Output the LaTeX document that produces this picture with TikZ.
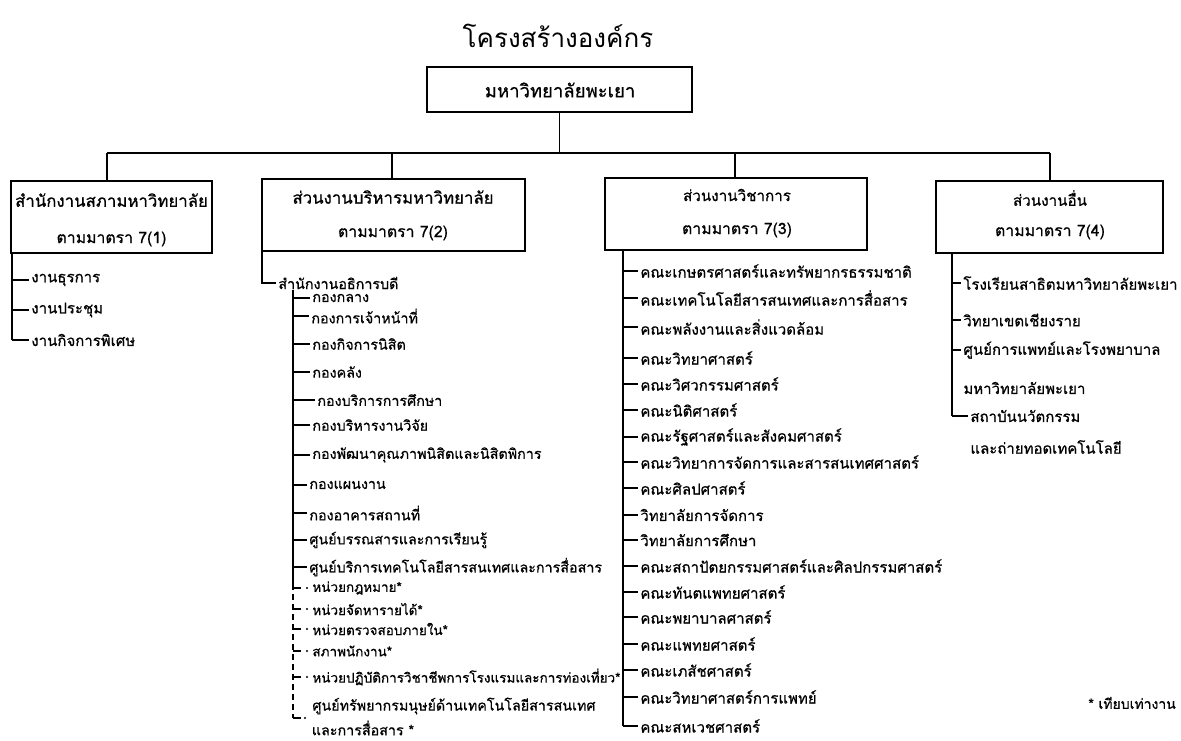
\documentclass[tikz,border=0pt]{standalone}
\usepackage{fontspec}
\setmainfont{Loma}[Script=Thai,FakeBold=0.7]
\newfontfamily\titlefont{Loma}[Script=Thai]
\begin{document}
\begin{tikzpicture}[x=1pt,y=-1pt,line width=1.8pt,
  orgbox/.style={draw,line width=2pt,inner sep=0pt},
  boxtxt/.style={inner sep=0pt},
  item/.style={anchor=west,font=\fontsize{15}{18}\selectfont,inner sep=1.5pt},
  item2/.style={item,font=\fontsize{14.3}{17}\selectfont},
  item3/.style={item,font=\fontsize{13.5}{16}\selectfont},
  link/.style={line width=1.9pt},
  dlink/.style={line width=1.5pt,dash pattern=on 6pt off 4pt}]
\useasboundingbox (0,0) rectangle (1181,740);
% title
\node[font=\titlefont\fontsize{26}{32}\selectfont,inner sep=0pt] (title) at (558,36) {โครงสร้างองค์กร};
% top box
\node[orgbox,minimum width=265pt,minimum height=45pt] (top) at (559.5,89.5) {};
\node[boxtxt,font=\fontsize{18.5}{22}\selectfont] (toptxt) at (560,90) {มหาวิทยาลัยพะเยา};
% level boxes
\node[orgbox,minimum width=201pt,minimum height=72pt] (b1) at (111.5,217) {};
\node[orgbox,minimum width=263pt,minimum height=72pt] (b2) at (393.5,215) {};
\node[orgbox,minimum width=262pt,minimum height=72pt] (b3) at (736,214) {};
\node[orgbox,minimum width=227pt,minimum height=72pt] (b4) at (1049.5,217) {};
\node[boxtxt,font=\fontsize{16.8}{20}\selectfont] (b1a) at (111.5,200) {สำนักงานสภามหาวิทยาลัย};
\node[boxtxt,font=\fontsize{15.8}{19}\selectfont] (b1b) at (111.5,239) {ตามมาตรา 7(1)};
\node[boxtxt,font=\fontsize{16.8}{20}\selectfont] (b2a) at (393,197) {ส่วนงานบริหารมหาวิทยาลัย};
\node[boxtxt,font=\fontsize{15.8}{19}\selectfont] (b2b) at (393,233) {ตามมาตรา 7(2)};
\node[boxtxt,font=\fontsize{15.2}{19}\selectfont] (b3a) at (737,195) {ส่วนงานวิชาการ};
\node[boxtxt,font=\fontsize{15.8}{19}\selectfont] (b3b) at (737,230) {ตามมาตรา 7(3)};
\node[boxtxt,font=\fontsize{15.2}{19}\selectfont] (b4a) at (1050,198) {ส่วนงานอื่น};
\node[boxtxt,font=\fontsize{15.8}{19}\selectfont] (b4b) at (1050,232) {ตามมาตรา 7(4)};
% bus
\coordinate (busL) at (107,153);
\coordinate (busR) at (1050,153);
\coordinate (bus2) at (392,153);
\coordinate (bus3) at (735,153);
\draw[link] (top.south) -- (top.south |- busL);
\draw[link] (busL) -- (busR);
\draw[link] (busL) -- (busL |- b1.north);
\draw[link] (bus2) -- (bus2 |- b2.north);
\draw[link] (bus3) -- (bus3 |- b3.north);
\draw[link] (busR) -- (busR |- b4.north);
% list 1
\coordinate (s1) at (12,253);
\foreach \y/\t [count=\i] in {280/งานธุรการ,310/งานประชุม,340/งานกิจการพิเศษ}{
  \node[item] (l1-\i) at (29,\y) {\t};
  \draw[link] (s1 |- l1-\i.west) -- (l1-\i.west);
}
\draw[link] (s1) -- (s1 |- l1-3.west);
% list 2
\coordinate (s2) at (262,251);
\node[item2] (ob) at (276,283) {สำนักงานอธิการบดี};
\draw[link] (s2) |- (ob.west);
\coordinate (s2b) at (293,290);
\coordinate (s2c) at (293,584);
\foreach \y/\x/\t [count=\i] in {298/310/กองกลาง,316/309/กองการเจ้าหน้าที่,344/310/กองกิจการนิสิต,372/310/กองคลัง,400/315/กองบริการการศึกษา,425/310/กองบริหารงานวิจัย,455/310/กองพัฒนาคุณภาพนิสิตและนิสิตพิการ,485/307/กองแผนงาน,513/307/กองอาคารสถานที่,540/307/ศูนย์บรรณสารและการเรียนรู้,567/307/ศูนย์บริการเทคโนโลยีสารสนเทศและการสื่อสาร}{
  \node[item2] (l2-\i) at (\x,\y) {\t};
  \draw[link] (s2b |- l2-\i.west) -- (l2-\i.west);
}
\draw[link] (s2b) -- (s2c);
\foreach \y/\t [count=\i] in {588/หน่วยกฎหมาย*,609/หน่วยจัดหารายได้*,629/หน่วยตรวจสอบภายใน*,651/สภาพนักงาน*,677/หน่วยปฏิบัติการวิชาชีพการโรงแรมและการท่องเที่ยว*}{
  \node[item3] (d2-\i) at (310,\y) {\t};
  \draw[line width=1.6pt] (s2c |- d2-\i.west) -- ++(8,0);
  \fill ([xshift=-3pt]d2-\i.west) circle (1.1pt);
}
\node[item2] (d2-6) at (310,706) {ศูนย์ทรัพยากรมนุษย์ด้านเทคโนโลยีสารสนเทศ};
\node[item2,inner sep=0pt] (d2-7) at (311,728) {และการสื่อสาร *};
\coordinate (s2d) at (293,718);
\draw[dlink] (s2c) -- (s2d);
\draw[line width=1.6pt] (s2d) -- ++(8,0) coordinate (s2e);
\fill ([xshift=4pt]s2e) circle (1.1pt);
% list 3
\coordinate (s3) at (623,250);
\foreach \y/\t [count=\i] in {271/คณะเกษตรศาสตร์และทรัพยากรธรรมชาติ,298/คณะเทคโนโลยีสารสนเทศและการสื่อสาร,327/คณะพลังงานและสิ่งแวดล้อม,358/คณะวิทยาศาสตร์,384/คณะวิศวกรรมศาสตร์,410/คณะนิติศาสตร์,437/คณะรัฐศาสตร์และสังคมศาสตร์,462/คณะวิทยาการจัดการและสารสนเทศศาสตร์,488/คณะศิลปศาสตร์,515/วิทยาลัยการจัดการ,540/วิทยาลัยการศึกษา,566/คณะสถาปัตยกรรมศาสตร์และศิลปกรรมศาสตร์,592/คณะทันตแพทยศาสตร์,617/คณะพยาบาลศาสตร์,644/คณะแพทยศาสตร์,670/คณะเภสัชศาสตร์,697/คณะวิทยาศาสตร์การแพทย์,726/คณะสหเวชศาสตร์}{
  \node[item] (l3-\i) at (638,\y) {\t};
  \draw[link] (s3 |- l3-\i.west) -- (l3-\i.west);
}
\draw[link] (s3) -- (s3 |- l3-18.west);
% list 4
\coordinate (s4) at (952,253);
\node[item] (l4-1) at (961,283) {โรงเรียนสาธิตมหาวิทยาลัยพะเยา};
\node[item] (l4-2) at (961,320) {วิทยาเขตเชียงราย};
\node[item] (l4-3) at (961,350) {ศูนย์การแพทย์และโรงพยาบาล};
\node[item] (l4-3b) at (961,388) {มหาวิทยาลัยพะเยา};
\node[item] (l4-4) at (968,416) {สถาบันนวัตกรรม};
\node[item] (l4-4b) at (968,447) {และถ่ายทอดเทคโนโลยี};
\foreach \n in {l4-1,l4-2,l4-3,l4-4}{
  \draw[link] (s4 |- \n.west) -- (\n.west);
}
\draw[link] (s4) -- (s4 |- l4-4.west);
% footnote
\node[item,font=\fontsize{14}{17}\selectfont] (note) at (1086,703) {* เทียบเท่างาน};
\end{tikzpicture}
\end{document}
